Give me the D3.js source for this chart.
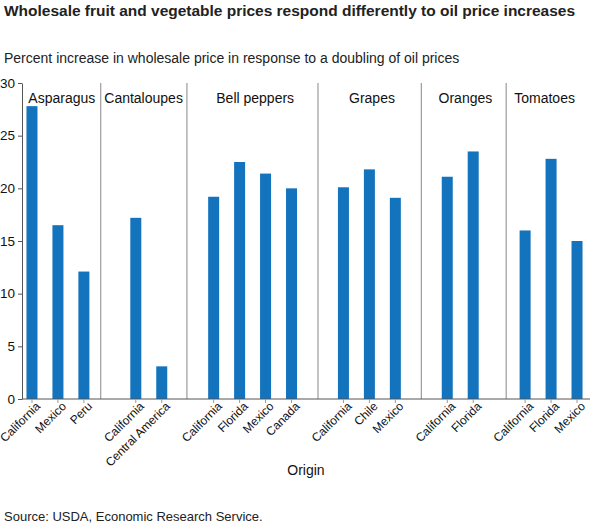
<!DOCTYPE html>
<html><head><meta charset="utf-8">
<script src="https://cdn.jsdelivr.net/npm/d3@7"></script>
<style>body{margin:0;background:#fff}text{font-family:"Liberation Sans",Arial,sans-serif}</style>
</head><body><svg id="c" width="593" height="525"></svg>
<script>
const groups = ["Asparagus","Cantaloupes","Bell peppers","Grapes","Oranges","Tomatoes"];
const origins = [
  ["California","Mexico","Peru"],
  ["California","Central America"],
  ["California","Florida","Mexico","Canada"],
  ["California","Chile","Mexico"],
  ["California","Florida"],
  ["California","Florida","Mexico"]
];
const values = [
  [27.8,16.5,12.1],
  [17.2,3.1],
  [19.2,22.5,21.4,20.0],
  [20.1,21.8,19.1],
  [21.1,23.5],
  [16.0,22.8,15.0]
];
const yTicks = [0,5,10,15,20,25,30];
const separatorSlots = [2.65,5.97,11.02,15.0,18.27];
const groupLabelSlots = [1.15,4.3,8.6,13.1,16.7,19.75];

const svg = d3.select("#c");
const L=22, R=590, T=83, B=399;
const bars=[]; let slot=0;
groups.forEach((g,gi)=>{ if(gi>0) slot++; origins[gi].forEach((o,i)=>{bars.push({g,o,v:values[gi][i],slot:slot}); slot++;}); });
const nSlots = slot;
const x = d3.scaleLinear().domain([-0.5,nSlots-0.5]).range([19,590]);
const y = d3.scaleLinear().domain([0,30]).range([B,T]);

svg.append("text").attr("x",4).attr("y",16).attr("font-size",14).attr("font-weight","bold").attr("fill","#222").attr("textLength",571).attr("lengthAdjust","spacingAndGlyphs")
  .text("Wholesale fruit and vegetable prices respond differently to oil price increases");
svg.append("text").attr("x",4).attr("y",63).attr("font-size",14).attr("fill","#222")
  .text("Percent increase in wholesale price in response to a doubling of oil prices");

separatorSlots.forEach(s=>svg.append("line").attr("x1",x(s)).attr("x2",x(s)).attr("y1",T).attr("y2",B).attr("stroke","#888").attr("stroke-width",1));

const bw=11;
svg.selectAll("rect.bar").data(bars).join("rect").attr("class","bar")
  .attr("x",d=>x(d.slot)-bw/2).attr("width",bw).attr("y",d=>y(d.v)).attr("height",d=>B-y(d.v)).attr("fill","#1373bd");

groups.forEach((g,i)=>svg.append("text").attr("x",x(groupLabelSlots[i])).attr("y",103).attr("text-anchor","middle").attr("font-size",14).attr("fill","#111").text(g));

const yAxis = svg.append("g").attr("transform",`translate(${L},0)`).call(d3.axisLeft(y).tickValues(yTicks).tickSize(4).tickSizeOuter(0));
yAxis.selectAll("text").attr("font-size",13.5).attr("fill","#111");
yAxis.select(".domain").attr("stroke","#555");
yAxis.selectAll(".tick line").attr("stroke","#555");

svg.append("line").attr("x1",L).attr("x2",R).attr("y1",B).attr("y2",B).attr("stroke","#555");
const tg = svg.selectAll("g.xt").data(bars).join("g").attr("class","xt").attr("transform",d=>`translate(${x(d.slot)},${B})`);
tg.append("line").attr("y2",4).attr("stroke","#999");
tg.append("text").attr("transform","translate(9,8) rotate(-45)").attr("text-anchor","end").attr("font-size",12).attr("fill","#111").text(d=>d.o);

svg.append("text").attr("x",306).attr("y",475).attr("text-anchor","middle").attr("font-size",14).attr("fill","#111").text("Origin");
svg.append("text").attr("x",4).attr("y",521).attr("font-size",13).attr("fill","#222").text("Source: USDA, Economic Research Service.");
</script></body></html>
